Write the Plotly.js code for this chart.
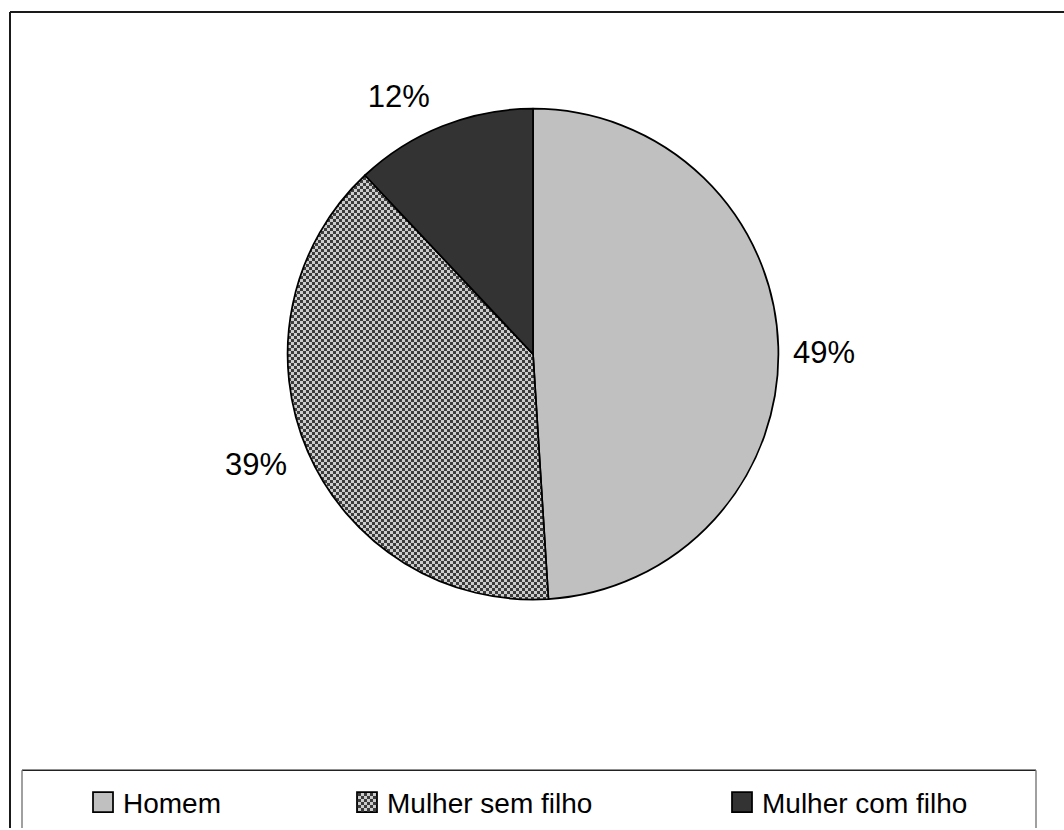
<!DOCTYPE html>
<html>
<head>
<meta charset="utf-8">
<script src="https://cdn.plot.ly/plotly-3.0.1.min.js"></script>
<style>
  html, body { margin: 0; padding: 0; background: #ffffff; }
  #chart { width: 1064px; height: 830px; }
</style>
</head>
<body>
<div id="chart"></div>
<script>
// Share of respondents by group (percent)
const labels = ['Homem', 'Mulher sem filho', 'Mulher com filho'];
const shares = [49, 39, 12];
const sliceFills = ['#c0c0c0', '#808080', '#333333'];
// slice drawn with the checkerboard texture
const checkerIndex = 1;

const W = 1064, H = 830;
const fx = p => p / W;
const fy = p => 1 - p / H;
const FONT = 'Liberation Sans, Arial, Helvetica, sans-serif';

// left edge of each legend entry and the row's vertical centre, in px
const legendSlots = [83, 347, 722];
const legendRowY = 802;
// fine offsets (px) for the outside percentage labels, one per slice
const labelNudge = [[6, 6], [-12, 10], [-4, -14]];

const trace = {
  type: 'pie',
  labels: labels,
  values: shares,
  sort: false,
  direction: 'clockwise',
  rotation: 0,
  marker: { colors: sliceFills, line: { color: '#000000', width: 1.75 } },
  textinfo: 'percent',
  textposition: 'outside',
  outsidetextfont: { family: FONT, size: 31, color: '#000000' },
  hoverinfo: 'none',
  domain: { x: [fx(287), fx(779)], y: [fy(601), fy(109)] }
};

const line = (x0, y0, x1, y1, color, width) => ({
  type: 'line', xref: 'paper', yref: 'paper',
  x0: fx(x0), y0: fy(y0), x1: fx(x1), y1: fy(y1),
  line: { color: color, width: width }
});

const layout = {
  width: W, height: H,
  margin: { l: 0, r: 0, t: 0, b: 0 },
  paper_bgcolor: '#ffffff',
  plot_bgcolor: '#ffffff',
  showlegend: true,
  legend: {
    orientation: 'h',
    x: fx(legendSlots[0]), xanchor: 'left',
    y: fy(782), yanchor: 'top',
    entrywidth: 260, entrywidthmode: 'pixels',
    font: { family: FONT, size: 28, color: '#000000' },
    bgcolor: 'rgba(0,0,0,0)', borderwidth: 0,
    itemclick: false, itemdoubleclick: false
  },
  shapes: [
    // chart frame
    line(10, 12, 1064, 12, '#1a1a1a', 2),
    line(10, 12, 10, 830, '#1a1a1a', 2),
    // legend frame
    line(22, 772, 1036, 772, '#222222', 1.5),
    line(22, 772, 22, 830, '#808080', 1.5),
    line(1036, 772, 1036, 830, '#808080', 1.5)
  ]
};

const gd = document.getElementById('chart');

function addChecker() {
  const svg = gd.querySelector('svg.main-svg');
  if (!svg || svg.querySelector('#checker')) return;
  const ns = 'http://www.w3.org/2000/svg';
  let defs = svg.querySelector('defs');
  if (!defs) { defs = document.createElementNS(ns, 'defs'); svg.insertBefore(defs, svg.firstChild); }
  const pat = document.createElementNS(ns, 'pattern');
  pat.setAttribute('id', 'checker');
  pat.setAttribute('patternUnits', 'userSpaceOnUse');
  pat.setAttribute('width', '6');
  pat.setAttribute('height', '6');
  const cells = [[0, 0, 6, 6, '#cccccc'], [0, 0, 3, 3, '#3c3c3c'], [3, 3, 3, 3, '#3c3c3c']];
  cells.forEach(c => {
    const r = document.createElementNS(ns, 'rect');
    r.setAttribute('x', c[0]); r.setAttribute('y', c[1]);
    r.setAttribute('width', c[2]); r.setAttribute('height', c[3]);
    r.setAttribute('fill', c[4]);
    pat.appendChild(r);
  });
  defs.appendChild(pat);
}

function nudgeLabels() {
  const texts = gd.querySelectorAll('.pielayer .slice text.slicetext');
  texts.forEach((t, i) => {
    const n = labelNudge[i];
    if (!n) return;
    if (!t.dataset.base) t.dataset.base = t.getAttribute('transform') || '';
    t.setAttribute('transform', 'translate(' + n[0] + ',' + n[1] + ') ' + t.dataset.base);
  });
}

function finish() {
  addChecker();
  const slices = gd.querySelectorAll('.pielayer .slice path.surface');
  if (slices[checkerIndex]) slices[checkerIndex].style.fill = 'url(#checker)';
  nudgeLabels();

  const items = gd.querySelectorAll('.legend .traces');
  items.forEach((it, i) => {
    const sym = it.querySelector('path.legendpie');
    if (sym) {
      sym.setAttribute('d', 'M10,10H-10V-10H10Z');
      if (i === checkerIndex) sym.style.fill = 'url(#checker)';
    }
    if (i < legendSlots.length) {
      const ctm = it.getCTM();
      const m = it.transform.baseVal.consolidate();
      const mx = m ? m.matrix.e : 0, my = m ? m.matrix.f : 0;
      it.setAttribute('transform',
        'translate(' + (mx + legendSlots[i] - ctm.e) + ',' + (my + legendRowY - ctm.f) + ')');
    }
  });
}

Plotly.newPlot(gd, [trace], layout, { displayModeBar: false, staticPlot: true }).then(() => {
  finish();
  gd.on('plotly_afterplot', finish);
});
</script>
</body>
</html>
